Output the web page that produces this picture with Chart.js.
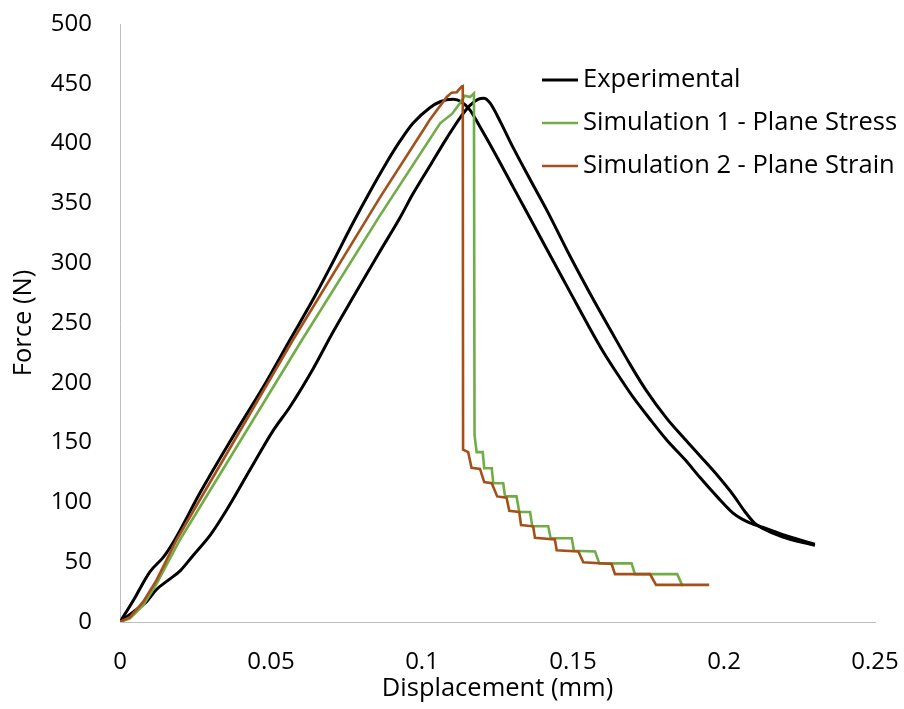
<!DOCTYPE html>
<html>
<head>
<meta charset="utf-8">
<title>Force vs Displacement</title>
<script src="https://cdn.jsdelivr.net/npm/chart.js@4.4.1/dist/chart.umd.min.js"></script>
<style>
  html, body { margin: 0; padding: 0; background: #ffffff; }
  canvas { display: block; }
</style>
</head>
<body>
<canvas id="chart" width="904" height="709"></canvas>
<script>
// Axis tick labels
const xTickLabels = ['0', '0.05', '0.1', '0.15', '0.2', '0.25'];
const yTickLabels = ['0', '50', '100', '150', '200', '250', '300', '350', '400', '450', '500'];

// Experimental specimen, first curve [displacement mm, force N]
const experimentalA = [
  [0, 0], [0.0044, 18], [0.0099, 42], [0.0143, 54], [0.0182, 69], [0.0265, 108],
  [0.0374, 155], [0.0487, 202], [0.0563, 236], [0.0640, 270], [0.0705, 301],
  [0.0770, 333], [0.0828, 360], [0.0880, 383], [0.0927, 402], [0.0970, 417],
  [0.1026, 430], [0.1060, 435], [0.1103, 437], [0.1130, 435], [0.1159, 428],
  [0.1192, 414], [0.1250, 388], [0.1301, 364], [0.1370, 332], [0.1434, 302],
  [0.1490, 276], [0.1546, 250], [0.1600, 226], [0.1656, 204], [0.1699, 188],
  [0.1760, 168], [0.1811, 152], [0.1870, 136], [0.1920, 121], [0.1980, 104],
  [0.2030, 91], [0.2060, 86], [0.2090, 82.5], [0.2130, 79], [0.2195, 73], [0.2301, 65]
];

// Experimental specimen, second curve
const experimentalB = [
  [0, 0], [0.0044, 8.5], [0.0088, 17], [0.0120, 27], [0.0160, 35], [0.0200, 43],
  [0.0240, 55], [0.0300, 73], [0.0354, 94], [0.0430, 127], [0.0507, 160],
  [0.0563, 180], [0.0640, 212], [0.0700, 240], [0.0780, 275], [0.0861, 310],
  [0.0927, 338], [0.0970, 358], [0.1030, 383], [0.1083, 405], [0.1130, 423],
  [0.1159, 432], [0.1185, 437], [0.1205, 438], [0.1225, 434], [0.1260, 418],
  [0.1301, 397], [0.1358, 370], [0.1414, 344], [0.1490, 306], [0.1560, 273],
  [0.1620, 246], [0.1690, 215], [0.1744, 193], [0.1811, 170], [0.1870, 153],
  [0.1920, 139], [0.1980, 122], [0.2031, 106], [0.2070, 92], [0.2100, 83],
  [0.2130, 78], [0.2195, 71], [0.2301, 64]
];

// Simulation 1 - plane stress
const simPlaneStress = [
  [0, 0], [0.0033, 3], [0.0077, 14], [0.0121, 32], [0.0199, 69], [0.0603, 236],
  [0.0861, 340], [0.1060, 417], [0.1100, 425], [0.1126, 434], [0.1142, 440],
  [0.1159, 439], [0.1172, 442], [0.1174, 156], [0.1181, 142], [0.1201, 142],
  [0.1206, 128.5], [0.1231, 128.5], [0.1236, 116], [0.1269, 116], [0.1275, 105],
  [0.1313, 105], [0.1322, 92], [0.1358, 92], [0.1365, 80], [0.1418, 80],
  [0.1426, 70], [0.1496, 70], [0.1503, 59.6], [0.1573, 59], [0.1587, 49],
  [0.1694, 49], [0.1705, 40], [0.1845, 40], [0.1863, 30]
];

// Simulation 2 - plane strain
const simPlaneStrain = [
  [0, 0], [0.0033, 4], [0.0077, 17], [0.0121, 35], [0.0188, 69], [0.0573, 236],
  [0.0861, 355], [0.1015, 415.6], [0.1026, 420], [0.1082, 439], [0.1098, 442.6],
  [0.1115, 443], [0.1131, 447.6], [0.1135, 448], [0.1136, 144], [0.1153, 142],
  [0.1164, 129], [0.1192, 128], [0.1206, 117], [0.1231, 116], [0.1249, 105],
  [0.1280, 104], [0.1289, 93], [0.1322, 92], [0.1328, 81], [0.1368, 80],
  [0.1374, 70.5], [0.1440, 69], [0.1446, 60], [0.1518, 59], [0.1534, 50],
  [0.1628, 48.5], [0.1639, 40], [0.1755, 40], [0.1775, 31], [0.1951, 31]
];

const toPoints = arr => arr.map(([x, y]) => ({ x, y }));

const FONT = "'Open Sans', 'Noto Sans', sans-serif";
const TICK_SIZE = 24;
const TEXT_SIZE = 25.5;

// Legend drawn inside the plot area, top right
const insideLegend = {
  id: 'insideLegend',
  afterDraw(chart) {
    const ctx = chart.ctx;
    const items = chart.data.datasets.filter(d => d.showInLegend);
    const x0 = 542, x1 = 578, tx = 583;
    const rows = [80, 123, 166];
    ctx.save();
    ctx.font = `${TEXT_SIZE}px ${FONT}`;
    ctx.textBaseline = 'middle';
    ctx.textAlign = 'left';
    items.forEach((d, i) => {
      const y = rows[i];
      ctx.strokeStyle = d.borderColor;
      ctx.lineWidth = d.borderWidth;
      ctx.beginPath();
      ctx.moveTo(x0, y);
      ctx.lineTo(x1, y);
      ctx.stroke();
      ctx.fillStyle = '#000000';
      ctx.fillText(d.label, tx, y);
    });
    ctx.restore();
  }
};

new Chart(document.getElementById('chart'), {
  type: 'line',
  data: {
    datasets: [
      {
        label: 'Experimental', showInLegend: true, data: toPoints(experimentalA),
        borderColor: '#000000', borderWidth: 3, pointRadius: 0,
        cubicInterpolationMode: 'monotone', order: 3
      },
      {
        label: 'Experimental', showInLegend: false, data: toPoints(experimentalB),
        borderColor: '#000000', borderWidth: 3, pointRadius: 0,
        cubicInterpolationMode: 'monotone', order: 2
      },
      {
        label: 'Simulation 1 - Plane Stress', showInLegend: true, data: toPoints(simPlaneStress),
        borderColor: '#70ad47', borderWidth: 2.6, pointRadius: 0, tension: 0, order: 1
      },
      {
        label: 'Simulation 2 - Plane Strain', showInLegend: true, data: toPoints(simPlaneStrain),
        borderColor: '#a5501b', borderWidth: 2.6, pointRadius: 0, tension: 0, order: 0
      }
    ]
  },
  options: {
    responsive: false,
    devicePixelRatio: 1,
    animation: false,
    layout: { padding: { top: 24, right: 29, bottom: 0, left: 0 } },
    plugins: {
      legend: { display: false },
      tooltip: { enabled: false }
    },
    scales: {
      x: {
        type: 'linear',
        min: 0, max: 0.25,
        grid: { display: false, drawTicks: false },
        border: { display: true, color: '#bfbfbf', width: 1 },
        ticks: {
          stepSize: 0.05,
          padding: 26,
          color: '#000000',
          font: { family: FONT, size: TICK_SIZE },
          maxRotation: 0,
          callback: (v, i) => xTickLabels[i]
        },
        title: {
          display: true, text: 'Displacement (mm)', color: '#000000',
          font: { family: FONT, size: TEXT_SIZE }, padding: { top: 0, bottom: 5 }
        },
        afterFit: scale => {
          scale.height = 87;
          scale.paddingLeft = 0;
          scale.paddingRight = 0;
        }
      },
      y: {
        type: 'linear',
        min: 0, max: 500,
        grid: { display: false, drawTicks: false },
        border: { display: true, color: '#bfbfbf', width: 1 },
        ticks: {
          stepSize: 50,
          padding: 28,
          color: '#000000',
          font: { family: FONT, size: TICK_SIZE },
          callback: (v, i) => yTickLabels[i]
        },
        title: {
          display: true, text: 'Force (N)', color: '#000000',
          font: { family: FONT, size: TEXT_SIZE }, padding: { top: 8, bottom: 0 }
        },
        afterFit: scale => {
          scale.width = 120;
          scale.paddingTop = 0;
          scale.paddingBottom = 0;
        }
      }
    }
  },
  plugins: [insideLegend]
});
</script>
</body>
</html>
